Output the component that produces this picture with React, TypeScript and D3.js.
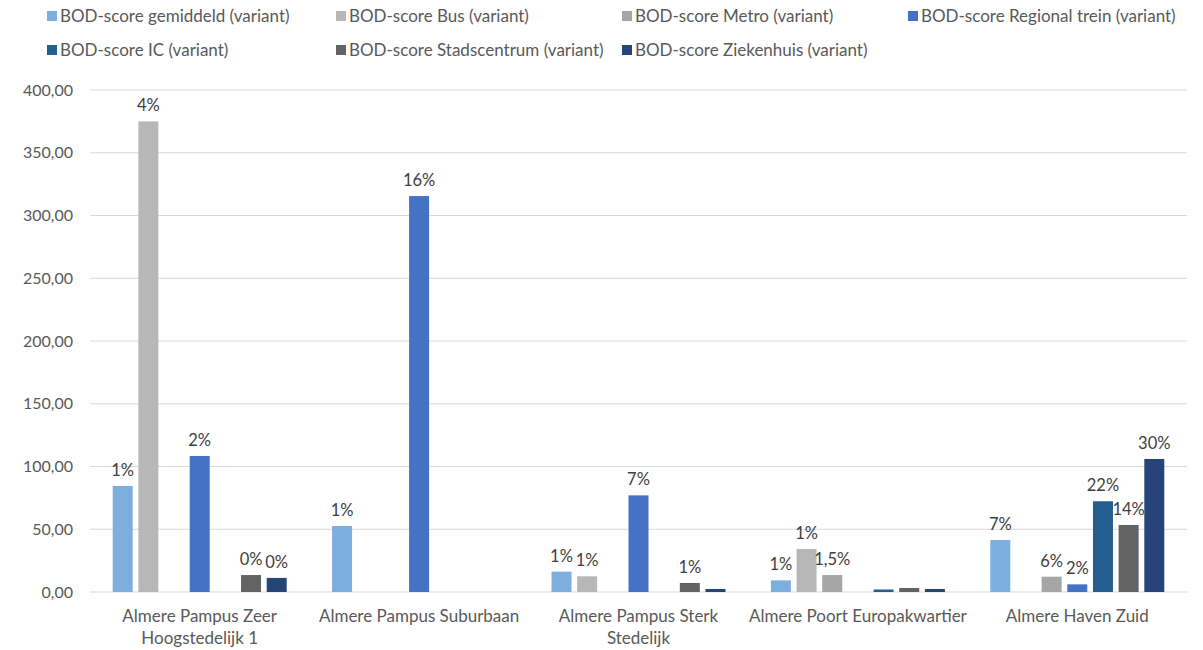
import React from "react";
import * as d3 from "d3";

const categories = [
  "Almere Pampus Zeer Hoogstedelijk 1",
  "Almere Pampus Suburbaan",
  "Almere Pampus Sterk Stedelijk",
  "Almere Poort Europakwartier",
  "Almere Haven Zuid",
];
const categoryLines = [
  ["Almere Pampus Zeer", "Hoogstedelijk 1"],
  ["Almere Pampus Suburbaan"],
  ["Almere Pampus Sterk", "Stedelijk"],
  ["Almere Poort Europakwartier"],
  ["Almere Haven Zuid"],
];

const seriesNames = [
  "BOD-score gemiddeld (variant)",
  "BOD-score Bus (variant)",
  "BOD-score Metro (variant)",
  "BOD-score Regional trein (variant)",
  "BOD-score IC (variant)",
  "BOD-score Stadscentrum (variant)",
  "BOD-score Ziekenhuis (variant)",
];
const seriesColors = ["#7CAFDD", "#B7B7B7", "#A5A5A5", "#4472C4", "#255E91", "#636363", "#264478"];

const gemiddeld = [84.5, 52.6, 16.2, 9.3, 41.4];
const bus = [375, 0, 12.5, 34.3, 0];
const metro = [0, 0, 0, 13.5, 12.2];
const regionalTrein = [108.4, 315.5, 77, 0, 6.1];
const ic = [0, 0, 0, 2.0, 72.3];
const stadscentrum = [13.5, 0, 7.2, 3.2, 53.4];
const ziekenhuis = [11.2, 0, 2.4, 2.4, 106];

const gemiddeldLabels = ["1%", "1%", "1%", "1%", "7%"];
const busLabels = ["4%", "", "1%", "1%", ""];
const metroLabels = ["", "", "", "1,5%", "6%"];
const regionalTreinLabels = ["2%", "16%", "7%", "", "2%"];
const icLabels = ["", "", "", "", "22%"];
const stadscentrumLabels = ["0%", "", "1%", "", "14%"];
const ziekenhuisLabels = ["0%", "", "", "", "30%"];

const yTicks = [0, 50, 100, 150, 200, 250, 300, 350, 400];

const seriesValues = [gemiddeld, bus, metro, regionalTrein, ic, stadscentrum, ziekenhuis];
const seriesLabels = [
  gemiddeldLabels,
  busLabels,
  metroLabels,
  regionalTreinLabels,
  icLabels,
  stadscentrumLabels,
  ziekenhuisLabels,
];

const W = 1203;
const H = 650;
const FONT = "Lato, 'Open Sans', sans-serif";

export default function App() {
  const left = 90;
  const right = 1187;
  const top = 90;
  const bottom = 592;

  const x0 = d3.scaleBand<string>().domain(categories).range([left, right]).paddingInner(0).paddingOuter(0);
  const outer = 22.7;
  const x1 = d3
    .scaleBand<string>()
    .domain(seriesNames)
    .range([outer, x0.bandwidth() - outer])
    .paddingInner(0.221)
    .paddingOuter(0);
  const y = d3.scaleLinear().domain([0, 400]).range([bottom, top]);
  const fmt = (v: number) => d3.format(".2f")(v).replace(".", ",");

  const legendCols = [47, 336, 622, 908];
  const legendRows = [16, 50];

  return (
    <div style={{ position: "absolute", left: 0, top: 0, width: W, height: H, background: "#fff" }}>
      <svg width={W} height={H} style={{ display: "block", fontFamily: FONT }}>
        <rect width={W} height={H} fill="#fff" />
        {yTicks.map((t) => (
          <line key={"g" + t} x1={left} x2={right} y1={y(t)} y2={y(t)} stroke="#D9D9D9" strokeWidth={1} />
        ))}
        {yTicks.map((t) => (
          <text key={"t" + t} x={73} y={y(t)} dy="0.35em" textAnchor="end" fontSize={16} fill="#595959">
            {fmt(t)}
          </text>
        ))}
        {categories.map((c, ci) => (
          <g key={c} transform={`translate(${x0(c)},0)`}>
            {seriesNames.map((s, si) => {
              const v = seriesValues[si][ci];
              if (!v) return null;
              return (
                <rect
                  key={s}
                  x={x1(s)}
                  y={y(v)}
                  width={x1.bandwidth()}
                  height={y(0) - y(v)}
                  fill={seriesColors[si]}
                />
              );
            })}
            {seriesNames.map((s, si) => {
              const v = seriesValues[si][ci];
              const lab = seriesLabels[si][ci];
              if (!lab) return null;
              return (
                <text
                  key={"l" + s}
                  x={(x1(s) as number) + x1.bandwidth() / 2}
                  y={y(v) - 10}
                  textAnchor="middle"
                  fontSize={16.5}
                  fill="#404040"
                >
                  {lab}
                </text>
              );
            })}
          </g>
        ))}
        {categories.map((c, ci) => (
          <text
            key={"c" + c}
            x={(x0(c) as number) + x0.bandwidth() / 2}
            y={622}
            textAnchor="middle"
            fontSize={17}
            fill="#595959"
          >
            {categoryLines[ci].map((ln, li) => (
              <tspan key={li} x={(x0(c) as number) + x0.bandwidth() / 2} dy={li === 0 ? 0 : 22}>
                {ln}
              </tspan>
            ))}
          </text>
        ))}
        {seriesNames.map((s, si) => {
          const col = si < 4 ? si : si - 4;
          const row = si < 4 ? 0 : 1;
          const lx = legendCols[col];
          const ly = legendRows[row];
          return (
            <g key={"lg" + s}>
              <rect x={lx} y={ly - 5} width={10} height={10} fill={seriesColors[si]} />
              <text x={lx + 13} y={ly} dy="0.35em" fontSize={17} fill="#595959">
                {s}
              </text>
            </g>
          );
        })}
      </svg>
    </div>
  );
}
